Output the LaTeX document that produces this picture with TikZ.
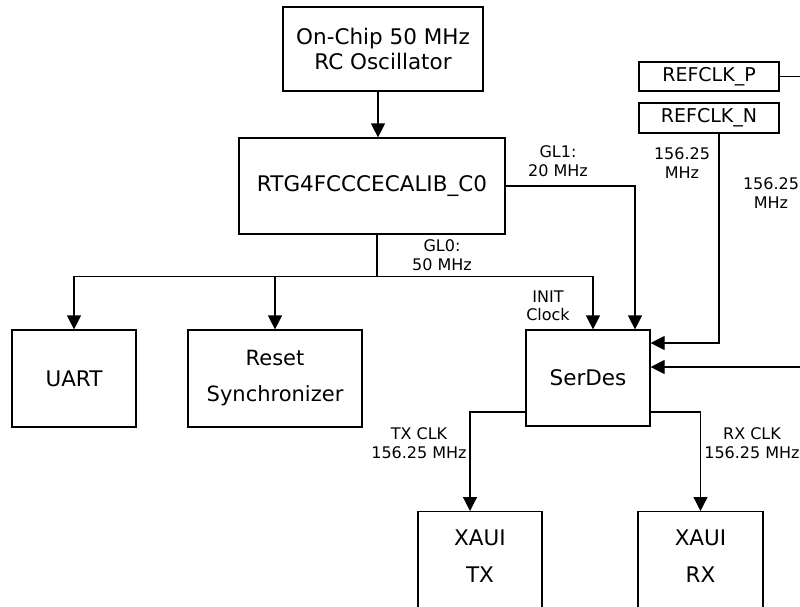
\documentclass[tikz,border=0pt]{standalone}
\usepackage{fontspec}
\setmainfont{DejaVu Sans}
\usetikzlibrary{arrows.meta}
\begin{document}
\begin{tikzpicture}[x=1pt,y=-1pt,
  box/.style={draw,line width=1.2pt,rectangle,inner sep=0pt,align=center,font=\fontsize{21.5}{25}\selectfont},
  lbl/.style={align=center,inner sep=0pt,font=\fontsize{16}{18.5}\selectfont},
  wire/.style={line width=1.2pt},
  arr/.style={line width=1.2pt,-{Triangle[width=14pt,length=14pt]}}]
\useasboundingbox (0,0) rectangle (800,606);
\clip (0,0) rectangle (800,606);
\node[box,minimum width=200pt,minimum height=84pt] (osc) at (383,49) {On-Chip 50 MHz\\ RC Oscillator};
\node[box,minimum width=266pt,minimum height=96pt] (rtg) at (372,186) {RTG4FCCCECALIB\_C0};
\node[box,minimum width=124pt,minimum height=97pt] (uart) at (74,378.5) {UART};
\node[box,minimum width=174pt,minimum height=97pt,font=\fontsize{21}{36}\selectfont] (reset) at (275,378.5) {Reset\\Synchronizer};
\node[box,minimum width=124pt,minimum height=96pt] (serdes) at (588,378) {SerDes};
\node[box,minimum width=140pt,minimum height=29pt,font=\fontsize{19}{22}\selectfont] (refp) at (709,76.5) {REFCLK\_P};
\node[box,minimum width=140pt,minimum height=30pt,font=\fontsize{19}{22}\selectfont] (refn) at (709,118) {REFCLK\_N};
\node[box,minimum width=124pt,minimum height=100pt,anchor=north] (xtx) at (480,511) {};
\node[box,minimum width=125pt,minimum height=100pt,anchor=north] (xrx) at (700.5,511) {};
\node[box,draw=none,font=\fontsize{21.5}{37}\selectfont] (xtxt) at (480,556) {XAUI\\TX};
\node[box,draw=none,font=\fontsize{21.5}{37}\selectfont] (xrxt) at (700.5,556) {XAUI\\RX};
% labels
\node[lbl] (gl0) at (442,255) {GL0:\\50 MHz};
\node[lbl] (gl1) at (558,161) {GL1:\\20 MHz};
\node[lbl] (init) at (548,306) {INIT\\Clock};
\node[lbl] (fn) at (682,163) {156.25\\MHz};
\node[lbl] (fp) at (771,193) {156.25\\MHz};
\node[lbl] (txl) at (419,443) {TX CLK\\156.25 MHz};
\node[lbl] (rxl) at (752,443) {RX CLK\\156.25 MHz};
% connectors
\draw[arr] ([xshift=-5pt]osc.south) -- ([xshift=-5pt]osc.south |- rtg.north);
\draw[wire] ([xshift=5pt]rtg.south) -- ++(0,42) coordinate (j);
\draw[arr] (j) -| (uart.north);
\draw[arr] (j) -| ([xshift=5pt]serdes.north);
\draw[arr] (reset.north |- j) -- (reset.north);
\draw[arr] (rtg.east) -| ([xshift=47pt]serdes.north);
\draw[arr] ([xshift=10pt]refn.south) |- ([yshift=35pt]serdes.east);
\draw[arr] (refp.east) -- ++(30,0) |- ([yshift=11pt]serdes.east);
\draw[arr] ([yshift=-34pt]serdes.west) -| ([xshift=-10pt]xtx.north);
\draw[arr] ([yshift=-34pt]serdes.east) -| (xrx.north);
\end{tikzpicture}
\end{document}
